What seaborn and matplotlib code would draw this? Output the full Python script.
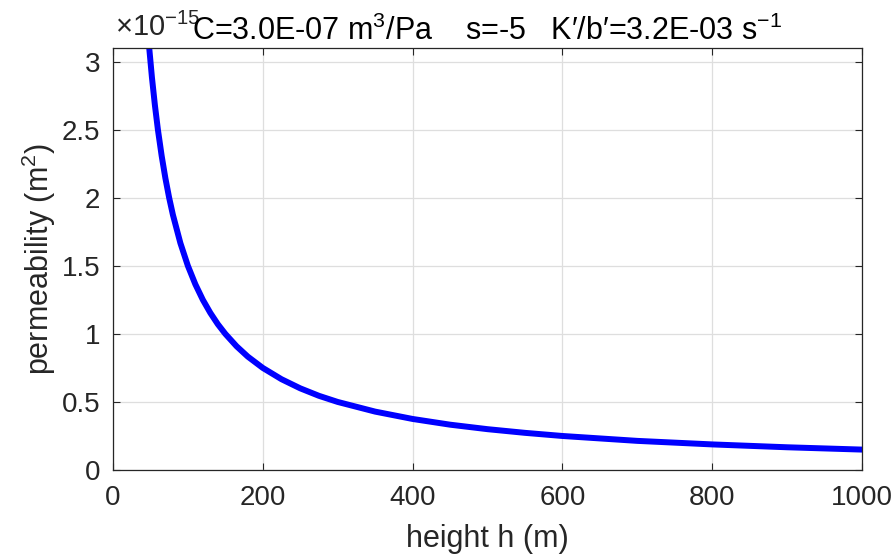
import numpy as np
import pandas as pd
import matplotlib
matplotlib.use("Agg")
import matplotlib.pyplot as plt
import seaborn as sns

# values (permeability in units of 1e-15 m^2)
height_m = [45, 48, 52, 56, 60, 65, 70, 75, 80, 90, 100, 110, 120, 130, 140,
            150, 165, 180, 200, 225, 250, 275, 300, 350, 400, 450, 500, 550,
            600, 700, 800, 900, 1000]
perm_e15 = [3.333, 3.125, 2.885, 2.679, 2.500, 2.308, 2.143, 2.000, 1.875,
            1.667, 1.500, 1.364, 1.250, 1.154, 1.071, 1.000, 0.909, 0.833,
            0.750, 0.667, 0.600, 0.545, 0.500, 0.429, 0.375, 0.333, 0.300,
            0.273, 0.250, 0.214, 0.188, 0.167, 0.150]
x_ticks = [0, 200, 400, 600, 800, 1000]
y_ticks = [0, 0.5, 1, 1.5, 2, 2.5, 3]

sns.set_theme(style="ticks")
plt.rcParams["font.family"] = ["Liberation Sans", "DejaVu Sans"]
plt.rcParams["mathtext.fontset"] = "custom"
plt.rcParams["mathtext.rm"] = "Liberation Sans"
plt.rcParams["mathtext.it"] = "Liberation Sans:italic"

df = pd.DataFrame({"h": height_m, "k": perm_e15})

fig = plt.figure(figsize=(8.93, 5.6), dpi=100)
ax = fig.add_axes([0.1265, 0.1607, 0.8388, 0.7536])

sns.lineplot(data=df, x="h", y="k", ax=ax, color=(0, 0, 1), linewidth=4.3)

ax.set_xlim(0, 1000)
ax.set_ylim(0, 3.1)
ax.set_xticks(x_ticks)
ax.set_yticks(y_ticks)
ax.set_yticklabels(["%g" % t for t in y_ticks])
ax.grid(True, color="0.87", linewidth=0.9)
ax.tick_params(direction="in", length=5, width=0.8, colors="0.15",
               labelsize=20, top=True, right=True)
ax.tick_params(axis="x", pad=11)
ax.tick_params(axis="y", pad=9)
for s in ax.spines.values():
    s.set_color("0.15")
    s.set_linewidth(0.9)

ax.set_xlabel("height h (m)", fontsize=22, color="0.15", labelpad=9)
ax.set_ylabel("permeability (m$^2$)", fontsize=22, color="0.15", labelpad=3)
ax.text(0.003, 1.015, r"$\times$10$^{-15}$", transform=ax.transAxes,
        fontsize=21, color="0.15", ha="left", va="bottom")
ax.set_title("C=3.0E-07 m$^3$/Pa    s=-5   K\u2032/b\u2032=3.2E-03 s$^{-1}$",
             fontsize=22, color="black", pad=6)

fig.savefig("out.png", dpi=100)
